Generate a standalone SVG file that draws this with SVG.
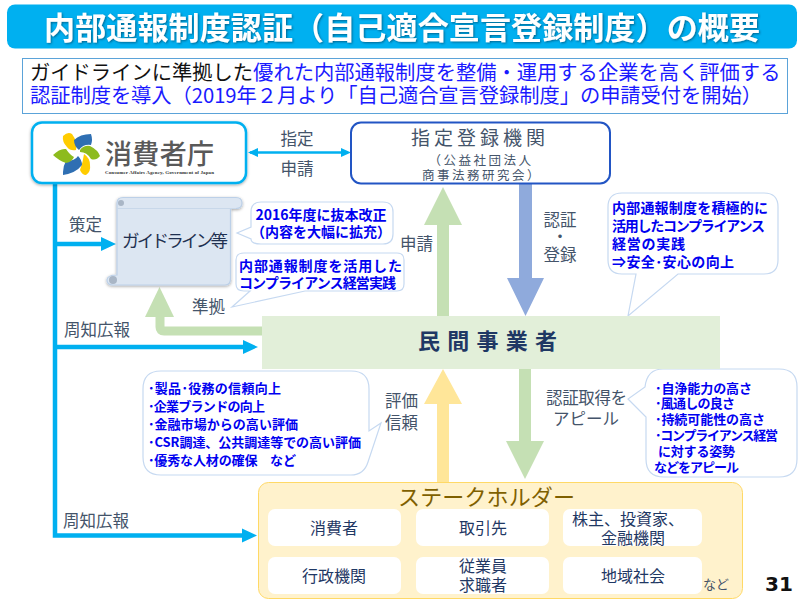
<svg xmlns="http://www.w3.org/2000/svg" width="800" height="600" viewBox="0 0 800 600">
<defs>
<style>
text{font-family:"Noto Sans CJK JP","Noto Sans",sans-serif}
.lbl{fill:#44546a;font-size:16.500px}
.call{fill:#fff;stroke:#c6d9f1;stroke-width:1.2}
.ct{fill:#0000f0;font-weight:700;font-size:14px}
.cs{fill:#0000f0;font-weight:700;font-size:13px}
.sub{font-size:20.300px}
.cell{fill:#fff}
.ctext{fill:#1f3864;font-size:16px;text-anchor:middle}
.mid{text-anchor:middle}
</style>
<filter id="sh" x="-10%" y="-10%" width="120%" height="120%"><feDropShadow dx="0" dy="1" stdDeviation="1.500" flood-color="#000" flood-opacity=".35"/></filter>
<filter id="ts" x="-5%" y="-20%" width="110%" height="140%"><feDropShadow dx="1" dy="1" stdDeviation=".8" flood-color="#003050" flood-opacity=".6"/></filter>
</defs>
<rect width="800" height="600" fill="#fff"/>
<g id="title"><rect x="7" y="4.500" width="790" height="44" rx="8" fill="#00b0f0"/><text x="44" y="39" fill="#fff" font-size="31" font-weight="700" textLength="716" filter="url(#ts)">内部通報制度認証（自己適合宣言登録制度）の概要</text></g>
<g id="subtitle"><rect x="22.500" y="58.500" width="765" height="55" fill="#fff" stroke="#5ba3d9"/>
<text class="sub" x="30" y="80" fill="#111">ガイドラインに準拠した<tspan fill="#1a1aff">優れた内部通報制度を整備・運用する企業を高く評価する</tspan></text>
<text class="sub" x="30" y="103" fill="#1a1aff" textLength="732">認証制度を導入（2019年２月より「自己適合宣言登録制度」の申請受付を開始）</text></g>
<g id="connectors">
<path d="M55 183V535.500H245M55 347H245M55 244H105" fill="none" stroke="#00b0f0" stroke-width="4.500"/>
<path d="M101 237L116 244L101 251zM243 340L258 347L243 354zM242 528.500L257 535.500L242 542.500z" fill="#00b0f0"/>
<path d="M250 152.500H348" stroke="#00b0f0" stroke-width="2.500"/>
<path d="M248 152.500L258 148V157zM351 152.500L341 148V157z" fill="#00b0f0"/>
<path d="M262 331H164Q160 331 160 327V316" fill="none" stroke="#c5e0b4" stroke-width="9"/>
<path d="M145 317L159.500 287L174 317z" fill="#c5e0b4"/>
<path d="M437 316V225H424L443 187L462 225H449V316z" fill="#c5e0b4"/>
<path d="M519 184H532V278H544L525.500 316L507 278H519z" fill="#8faadc"/>
<path d="M437 482V404H424L443 369L462 404H449V482z" fill="#ffe699"/>
<path d="M519 369H531V441H544L525 479L506 441H519z" fill="#c5e0b4"/>
</g>
<g id="caa"><rect x="32" y="122.500" width="214" height="60.500" rx="10" fill="#fff" stroke="#00b0f0" stroke-width="2.500" filter="url(#sh)"/>
<path d="M63 136Q68 131 72 134Q78 142 76 150Q70 151 67 147Q62 142 63 136z" fill="#ffcc00"/>
<path d="M74 140Q80 134 91 134Q93 140 91 145Q83 144 79 150Q74 146 74 140z" fill="#2f6fb3"/>
<path d="M80 150Q84 145 90 146Q98 150 100 156Q96 161 91 159Q87 152 80 152z" fill="#8dbb1e"/>
<path d="M84 154Q90 158 90 165Q91 172 86 175Q82 175 80 170Q83 162 84 154z" fill="#ffcc00"/>
<path d="M63 172Q63 166 66 161Q75 161 78 156Q82 160 82 165Q76 173 63 175z" fill="#2f6fb3"/>
<path d="M53 155Q60 148 66 149Q70 155 74 157Q72 162 66 163Q58 160 53 155z" fill="#8dbb1e"/>
<text x="105" y="164" fill="#595959" font-size="27" font-weight="500" textLength="109">消費者庁</text>
<text x="105" y="173.500" fill="#333" font-size="5" font-weight="700" textLength="109" style="font-family:'Liberation Serif',serif">Consumer Affairs Agency, Government of Japan</text></g>
<text class="lbl mid" x="297" y="145">指定</text><text class="lbl mid" x="297" y="175">申請</text>
<g id="registry"><rect x="351" y="122.500" width="259" height="61" rx="10" fill="#fff" stroke="#2255c4" stroke-width="2"/>
<text class="mid" x="480" y="145" fill="#44546a" font-size="19" letter-spacing="4">指定登録機関</text>
<text class="mid" x="481" y="165" fill="#44546a" font-size="12.500" letter-spacing="2.500">（公益社団法人</text>
<text class="mid" x="482" y="180" fill="#44546a" font-size="12.500" letter-spacing="2.500">商事法務研究会）</text></g>
<g id="guideline"><path d="M117 203Q117 197.500 123 197.500H236Q242 197.500 242 203Q242 208.500 236 208.500H230.500V279Q230.500 285 225 285H113Q107 285 107 280Q107 275 117 275z" fill="#dce6f2" stroke="#bcd0e8" stroke-width="1.200" filter="url(#sh)"/>
<path d="M117 208.500H236" fill="none" stroke="#c8d8ea"/>
<circle cx="121" cy="203" r="3" fill="#a9b6c6"/><circle cx="113" cy="280" r="4" fill="#a9b6c6"/>
<text x="122" y="247" fill="#1f3050" font-size="17.500" textLength="106">ガイドライン等</text></g>
<text class="lbl" x="69" y="231">策定</text>
<text class="lbl" x="64" y="336">周知広報</text>
<text class="lbl" x="63" y="527">周知広報</text>
<text class="lbl" x="192" y="313">準拠</text>
<text class="lbl" x="400" y="250">申請</text>
<text class="lbl mid" x="560" y="226">認証</text><text class="lbl mid" x="560" y="243">・</text><text class="lbl mid" x="560" y="261">登録</text>
<text class="lbl" x="385" y="407">評価</text><text class="lbl" x="385" y="429">信頼</text>
<text class="lbl" x="546" y="404" textLength="81">認証取得を</text><text class="lbl mid" x="586" y="425">アピール</text>
<g id="c1"><path class="call" d="M261 202H383Q393 202 393 212V234Q393 244 383 244H261Q251 244 251 239L237 233L251 227V212Q251 202 261 202z"/>
<text class="ct" x="321" y="220" text-anchor="middle">2016年度に抜本改正</text><text class="ct" x="321" y="237" text-anchor="middle">（内容を大幅に拡充）</text></g>
<g id="c2"><path class="call" d="M244 253H397Q404 253 404 260V284Q404 291 397 291H305L232 307L250 291H244Q236 291 236 284V260Q236 253 244 253z"/>
<text class="ct" x="239" y="271" textLength="163">内部通報制度を活用した</text><text class="ct" x="239" y="288" textLength="157">コンプライアンス経営実践</text></g>
<g id="c3"><path class="call" d="M622 193H764Q778 193 778 207V260Q778 274 764 274H678L628 316L636 274H622Q608 274 608 260V207Q608 193 622 193z"/>
<text class="ct" x="612" y="213" textLength="156">内部通報制度を積極的に</text><text class="ct" x="612" y="231" textLength="153">活用したコンプライアンス</text><text class="ct" x="612" y="249" textLength="73">経営の実践</text><text class="ct" x="612" y="267" textLength="122">⇒安全･安心の向上</text></g>
<g id="c4"><path class="call" d="M161 371H351Q369 371 369 389V431L381 423L368 462Q364 475 351 475H161Q143 475 143 457V389Q143 371 161 371z"/>
<text class="cs" x="148" y="393" textLength="133">･製品･役務の信頼向上</text><text class="cs" x="148" y="411" textLength="117">･企業ブランドの向上</text><text class="cs" x="148" y="429" textLength="150">･金融市場からの高い評価</text><text class="cs" x="148" y="447" textLength="213">･CSR調達、公共調達等での高い評価</text><text class="cs" x="148" y="465" textLength="148">･優秀な人材の確保　など</text></g>
<g id="c5"><path class="call" d="M663 369H779Q797 369 797 387V459Q797 477 779 477H664Q646 477 646 459V417L628 399L645 387Q647 369 663 369z"/>
<text class="cs" x="655" y="392.500" textLength="97">･自浄能力の高さ</text><text class="cs" x="655" y="408" textLength="80">･風通しの良さ</text><text class="cs" x="655" y="424" textLength="110">･持続可能性の高さ</text><text class="cs" x="655" y="440" textLength="123">･コンプライアンス経営</text><text class="cs" x="658" y="456" textLength="77">に対する姿勢</text><text class="cs" x="654" y="472" textLength="85">などをアピール</text></g>
<g id="company"><rect x="262" y="316" width="458" height="53" fill="#e2efd9"/><text x="418" y="349" fill="#1f3864" font-size="22" font-weight="700" textLength="139">民間事業者</text></g>
<g id="stakeholders"><rect x="258.500" y="482.500" width="484" height="116" rx="10" fill="#fff2cc" stroke="#ffd966"/>
<text x="398" y="505" fill="#7f6000" font-size="22" textLength="177">ステークホルダー</text>
<rect class="cell" x="268" y="509" width="133" height="37" rx="7"/><rect class="cell" x="416" y="509" width="133" height="37" rx="7"/><rect class="cell" x="563" y="509" width="139" height="37" rx="7"/>
<rect class="cell" x="268" y="557" width="133" height="37" rx="7"/><rect class="cell" x="416" y="557" width="133" height="37" rx="7"/><rect class="cell" x="563" y="557" width="139" height="37" rx="7"/>
<text class="ctext" x="334" y="534">消費者</text><text class="ctext" x="483" y="534">取引先</text><text class="ctext" x="628" y="525">株主、投資家、</text><text class="ctext" x="633" y="544">金融機関</text>
<text class="ctext" x="334" y="582">行政機関</text><text class="ctext" x="483" y="572">従業員</text><text class="ctext" x="483" y="591">求職者</text><text class="ctext" x="633" y="582">地域社会</text>
<text x="703" y="589" fill="#44546a" font-size="13">など</text></g>
<text x="765" y="591" fill="#111" font-size="20" font-weight="700" style="font-family:'DejaVu Sans',sans-serif">31</text>
</svg>
